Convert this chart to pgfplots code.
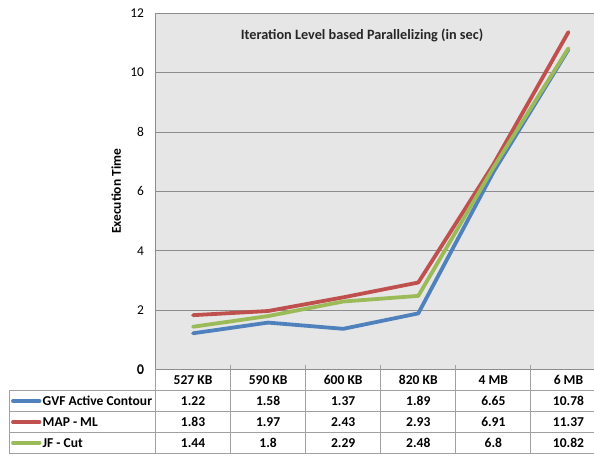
\documentclass[border=0pt]{standalone}
\usepackage{pgfplots}
\usepackage{pgfplotstable}
\pgfplotsset{compat=1.18}
\usepackage{fontspec}
\setmainfont{Carlito}

\definecolor{bggray}{HTML}{E6E6E6}
\definecolor{gridgray}{HTML}{8C8C8C}
\definecolor{tablegray}{HTML}{A0A0A0}
\definecolor{gvfblue}{HTML}{4F81BD}
\definecolor{mapred}{HTML}{C0504D}
\definecolor{jfgreen}{HTML}{9BBB59}

% execution times (s) per input size
\pgfplotstableread{
idx size gvf map jf
0 {527 KB} 1.22 1.83 1.44
1 {590 KB} 1.58 1.97 1.8
2 {600 KB} 1.37 2.43 2.29
3 {820 KB} 1.89 2.93 2.48
4 {4 MB}   6.65 6.91 6.8
5 {6 MB}   10.78 11.37 10.82
}\timings

\newcommand\tabfont{\fontsize{13.6}{15}\selectfont\bfseries}

\begin{document}
\begin{tikzpicture}[x=1bp,y=1bp]
\useasboundingbox (-155.5,-86.5) rectangle (438.5,369.5);
\def\colw{75.08}
\begin{axis}[
  at={(0,0)}, anchor=south west,
  scale only axis, width=450.5bp, height=356.2bp,
  xmin=-0.5, xmax=5.5, ymin=0, ymax=12,
  xtick=\empty,
  ytick={0,2,...,12},
  ymajorgrids,
  grid style={color=gridgray, line width=0.9pt},
  axis line style={color=gridgray, line width=0.9pt},
  axis background/.style={fill=bggray},
  major tick length=0pt,
  /pgf/number format/assume math mode=true,
  yticklabel style={font=\fontsize{13.5}{15}\selectfont, anchor=east, xshift=-8bp},
  ylabel={\bfseries Execution Time},
  ylabel style={font=\fontsize{13.5}{15}\selectfont, at={(axis description cs:0,0.5)}, anchor=south, yshift=31bp},
]
\addplot[gvfblue, line width=3.8bp, line cap=round, line join=round] table[x=idx, y=gvf] {\timings};
\addplot[mapred, line width=3.8bp, line cap=round, line join=round] table[x=idx, y=map] {\timings};
\addplot[jfgreen, line width=3.8bp, line cap=round, line join=round] table[x=idx, y=jf] {\timings};
\node[font=\fontsize{14.3}{16}\selectfont\bfseries, text=black!85] at (axis cs:2.25,11.27) {Iteration Level based Parallelizing (in sec)};
\end{axis}

% data table under the plot
\begin{scope}[tablegray, line width=0.9pt]
  \draw (0,0) -- (0,-83.5);
  \foreach \k in {1,...,6} \draw (\k*\colw,4) -- (\k*\colw,-83.5);
  \draw (-146.5,-20.5) -- (450.5,-20.5);
  \draw (-146.5,-42.2) -- (450.5,-42.2);
  \draw (-146.5,-62.8) -- (450.5,-62.8);
  \draw (-146.5,-83.5) -- (450.5,-83.5);
  \draw (-146.5,-20.5) -- (-146.5,-83.5);
\end{scope}
\node[font=\fontsize{13.5}{15}\selectfont, anchor=east] at (-8,-1) {0};

\foreach \r in {0,...,5} {
  \pgfplotstablegetelem{\r}{size}\of\timings
  \node[font=\tabfont] at ({(\r+0.5)*\colw},-10.5) {\pgfplotsretval};
  \pgfplotstablegetelem{\r}{gvf}\of\timings
  \node[font=\tabfont] at ({(\r+0.5)*\colw},-31.5) {\pgfplotsretval};
  \pgfplotstablegetelem{\r}{map}\of\timings
  \node[font=\tabfont] at ({(\r+0.5)*\colw},-52.5) {\pgfplotsretval};
  \pgfplotstablegetelem{\r}{jf}\of\timings
  \node[font=\tabfont] at ({(\r+0.5)*\colw},-73.2) {\pgfplotsretval};
}

% series keys in the label column
\draw[gvfblue, line width=3.8bp, line cap=round] (-142.5,-31.5) -- (-116,-31.5);
\draw[mapred, line width=3.8bp, line cap=round] (-142.5,-52.5) -- (-116,-52.5);
\draw[jfgreen, line width=3.8bp, line cap=round] (-142.5,-73.2) -- (-116,-73.2);
\node[font=\tabfont, anchor=west, inner sep=0pt] at (-113,-31.5) {GVF Active Contour};
\node[font=\tabfont, anchor=west, inner sep=0pt] at (-113,-52.5) {MAP - ML};
\node[font=\tabfont, anchor=west, inner sep=0pt] at (-113,-73.2) {JF - Cut};
\end{tikzpicture}
\end{document}
